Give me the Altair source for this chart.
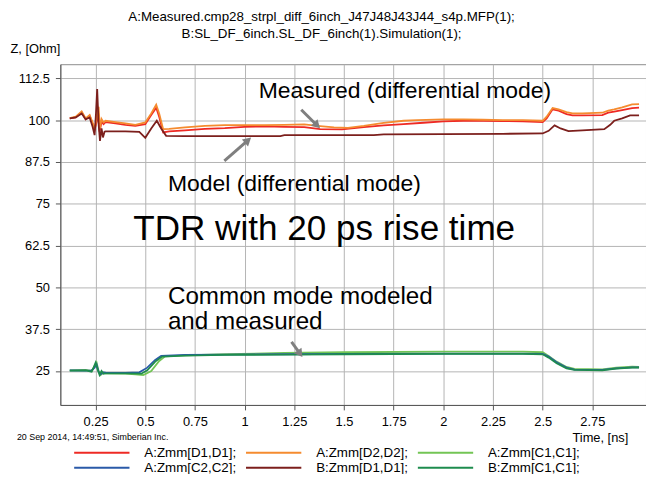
import math
import altair as alt
import pandas as pd

FONT = "Liberation Sans"

title_lines = ["A:Measured.cmp28_strpl_diff_6inch_J47J48J43J44_s4p.MFP(1);",
               "B:SL_DF_6inch.SL_DF_6inch(1).Simulation(1);"]
y_title = "Z, [Ohm]"
x_title = "Time, [ns]"
footer_text = "20 Sep 2014, 14:49:51, Simberian Inc."

x_ticks = [0.25, 0.5, 0.75, 1.0, 1.25, 1.5, 1.75, 2.0, 2.25, 2.5, 2.75]
y_ticks = [25, 37.5, 50, 62.5, 75, 87.5, 100, 112.5]
x_domain = [0.0726, 3.02]
y_domain = [14.85, 116.7]

series_names = ["A:Zmm[D1,D1];", "A:Zmm[D2,D2];", "A:Zmm[C1,C1];",
                "A:Zmm[C2,C2];", "B:Zmm[D1,D1];", "B:Zmm[C1,C1];"]
series_colors = ["#ee2a24", "#f58b2f", "#73c555", "#2a5aa8", "#7c1f1c", "#1e8c4e"]

# A:Zmm[D1,D1] (measured, red)
a_d1_t = [0.12, 0.15, 0.18, 0.20, 0.22, 0.235, 0.245, 0.255, 0.262, 0.27, 0.28, 0.29, 0.30, 0.35, 0.40,
          0.45, 0.50, 0.53, 0.555, 0.57, 0.59, 0.62, 0.7, 0.8, 0.9, 1.0, 1.1, 1.2, 1.3, 1.38, 1.49, 1.6,
          1.7, 1.8, 1.9, 2.0, 2.1, 2.2, 2.3, 2.4, 2.5, 2.52, 2.55, 2.58, 2.62, 2.65, 2.7, 2.8, 2.83, 2.86,
          2.9, 2.95, 2.985]
a_d1_z = [100.5, 100.8, 102.3, 100.3, 101.3, 99.0, 97.0, 99.5, 102.0, 96.5, 99.5, 98.8, 99.4, 99.0, 98.6,
          98.3, 98.8, 101.5, 103.7, 101.0, 96.3, 96.6, 96.9, 97.4, 97.6, 98.0, 98.1, 98.0, 97.9, 97.3, 97.2, 97.9,
          98.4, 98.8, 99.2, 99.6, 99.8, 99.8, 99.7, 99.6, 99.4, 100.5, 103.2, 102.8, 101.8, 101.4, 101.4, 101.5, 102.2, 102.5,
          103.0, 103.6, 103.7]

# A:Zmm[D2,D2] (measured, orange)
a_d2_t = [0.12, 0.15, 0.18, 0.20, 0.22, 0.235, 0.245, 0.255, 0.265, 0.272, 0.28, 0.29, 0.30, 0.35, 0.40,
          0.45, 0.50, 0.53, 0.555, 0.57, 0.59, 0.62, 0.7, 0.8, 0.9, 1.0, 1.1, 1.2, 1.3, 1.38, 1.45, 1.52,
          1.6, 1.7, 1.8, 1.87, 2.0, 2.1, 2.2, 2.3, 2.4, 2.5, 2.52, 2.55, 2.58, 2.62, 2.65, 2.7, 2.8, 2.83,
          2.86, 2.9, 2.95, 2.985]
a_d2_z = [100.6, 101.0, 102.6, 100.5, 101.5, 99.2, 97.3, 100.5, 104.0, 97.5, 100.3, 99.3, 99.8, 99.4, 99.0,
          98.6, 99.3, 102.0, 104.6, 102.0, 97.3, 97.4, 97.8, 98.3, 98.5, 98.5, 98.5, 98.6, 98.7, 98.2, 97.8, 97.7,
          98.3, 99.2, 99.8, 100.0, 100.2, 100.2, 100.1, 100.0, 100.0, 99.8, 101.0, 103.6, 103.2, 102.4, 102.0, 102.0, 102.2, 102.8,
          103.2, 103.8, 104.7, 104.8]

# A:Zmm[C1,C1] (measured common, light green)
a_c1_t = [0.12, 0.2, 0.23, 0.245, 0.255, 0.265, 0.275, 0.29, 0.3, 0.4, 0.45, 0.49, 0.53, 0.57, 0.60, 0.7,
          0.9, 1.2, 1.5, 2.0, 2.4, 2.5, 2.53, 2.57, 2.62, 2.66, 2.8, 2.87, 2.95, 2.985]
a_c1_z = [25.2, 25.3, 25.0, 26.5, 27.5, 25.0, 23.8, 24.5, 24.3, 24.2, 24.0, 23.8, 25.0, 28.0, 29.4, 29.7,
          30.0, 30.4, 30.6, 30.8, 30.8, 30.6, 29.5, 27.8, 26.2, 25.6, 25.5, 26.0, 26.3, 26.2]

# A:Zmm[C2,C2] (measured common, blue)
a_c2_t = [0.12, 0.2, 0.23, 0.245, 0.255, 0.265, 0.275, 0.29, 0.3, 0.4, 0.47, 0.51, 0.55, 0.58, 0.7, 0.9,
          1.2, 1.5, 2.0, 2.4, 2.5, 2.53, 2.57, 2.62, 2.66, 2.8, 2.87, 2.95, 2.985]
a_c2_z = [25.2, 25.1, 25.2, 26.0, 27.0, 24.8, 24.0, 24.6, 24.5, 24.4, 24.6, 26.0, 28.3, 29.5, 29.8, 29.9,
          30.0, 30.1, 30.2, 30.2, 30.1, 29.3, 27.6, 26.0, 25.4, 25.3, 25.8, 26.1, 26.1]

# B:Zmm[D1,D1] (model, dark brown)
b_d1_t = [0.12, 0.15, 0.18, 0.20, 0.22, 0.235, 0.245, 0.252, 0.258, 0.265, 0.272, 0.28, 0.287, 0.295, 0.30,
          0.35, 0.40, 0.47, 0.50, 0.53, 0.558, 0.58, 0.605, 0.7, 0.9, 1.18, 1.2, 1.65, 1.7, 2.0, 2.3, 2.5,
          2.53, 2.56, 2.59, 2.63, 2.7, 2.81, 2.84, 2.86, 2.9, 2.94, 2.985]
b_d1_z = [100.5, 100.8, 102.0, 100.2, 100.8, 98.0, 95.5, 102.0, 109.3, 99.0, 93.8, 97.5, 94.8, 96.5, 96.6,
          96.6, 96.6, 96.5, 94.7, 97.5, 99.8, 97.5, 95.3, 95.2, 95.2, 95.2, 95.5, 95.5, 95.7, 95.8, 95.9, 96.0,
          96.8, 98.4, 97.5, 96.7, 96.9, 97.3, 98.6, 99.8, 100.5, 101.4, 101.4]

# B:Zmm[C1,C1] (model common, dark green)
b_c1_t = [0.12, 0.2, 0.23, 0.24, 0.25, 0.26, 0.27, 0.28, 0.29, 0.3, 0.4, 0.48, 0.51, 0.55, 0.585, 0.7,
          0.9, 1.2, 1.5, 2.0, 2.4, 2.5, 2.53, 2.57, 2.62, 2.66, 2.8, 2.87, 2.95, 2.985]
b_c1_z = [25.1, 25.2, 24.8, 26.0, 27.5, 25.5, 23.8, 25.0, 24.2, 24.3, 24.3, 24.2, 25.2, 27.8, 29.3, 29.6,
          29.8, 29.9, 30.0, 30.1, 30.1, 30.0, 29.0, 27.3, 25.8, 25.3, 25.2, 25.7, 26.0, 26.0]

series_t = [a_d1_t, a_d2_t, a_c1_t, a_c2_t, b_d1_t, b_c1_t]
series_z = [a_d1_z, a_d2_z, a_c1_z, a_c2_z, b_d1_z, b_c1_z]

# annotations (data coordinates)
ann_text = ["Measured (differential mode)", "Model (differential mode)", "TDR with 20 ps rise time",
            "Common mode modeled", "and measured"]
ann_t = [1.071, 0.614, 0.440, 0.614, 0.614]
ann_z = [108.6, 81.0, 67.4, 47.0, 39.6]
ann_size = [23.2, 23.2, 35.5, 24.5, 24.5]

arrow_t1 = [1.285, 0.898, 1.236]
arrow_z1 = [103.1, 87.8, 33.7]
arrow_t2 = [1.360, 1.012, 1.275]
arrow_z2 = [98.7, 93.7, 30.5]

# ---------------------------------------------------------------
W, H = 593, 345
px_per_t = W / (x_domain[1] - x_domain[0])
px_per_z = H / (y_domain[1] - y_domain[0])

rows = []
for name, ts, zs in zip(series_names, series_t, series_z):
    for i, (t, z) in enumerate(zip(ts, zs)):
        rows.append({"series": name, "t": t, "z": z, "i": i})
df = pd.DataFrame(rows)

x_scale = alt.Scale(domain=x_domain, nice=False, zero=False)
y_scale = alt.Scale(domain=y_domain, nice=False, zero=False)

lines = alt.Chart(df).mark_line(strokeWidth=1.8).encode(
    x=alt.X("t:Q", scale=x_scale,
            axis=alt.Axis(values=x_ticks, title=x_title, titleX=518, titleY=33,
                          titleAlign="left", titleBaseline="middle", titleAngle=0,
                          labelPadding=6, labelExpr="format(datum.value, '.4~g')")),
    y=alt.Y("z:Q", scale=y_scale,
            axis=alt.Axis(values=y_ticks, title=y_title, titleX=-51, titleY=-16,
                          titleAlign="left", titleBaseline="middle", titleAngle=0,
                          labelPadding=6, labelExpr="format(datum.value, '.4~g')")),
    color=alt.Color("series:N", scale=alt.Scale(domain=series_names, range=series_colors),
                    legend=alt.Legend(orient="none", legendX=13, legendY=386, columns=3,
                                      direction="horizontal",
                                      title=None, symbolType="stroke", symbolSize=3136,
                                      symbolStrokeWidth=2, clipHeight=15, labelOffset=14,
                                      labelFontSize=13.5, labelFont=FONT, labelColor="#000",
                                      columnPadding=8, rowPadding=0)),
    order="i:Q",
)

ann_df = pd.DataFrame({"text": ann_text, "t": ann_t, "z": ann_z, "size": ann_size})
annotations = alt.Chart(ann_df).mark_text(align="left", baseline="middle", font=FONT,
                                          color="#000").encode(
    x=alt.X("t:Q", scale=x_scale),
    y=alt.Y("z:Q", scale=y_scale),
    text="text:N",
    size=alt.Size("size:Q", scale=None, legend=None),
)

angles = []
for t1, z1, t2, z2 in zip(arrow_t1, arrow_z1, arrow_t2, arrow_z2):
    dx = (t2 - t1) * px_per_t
    dy = -(z2 - z1) * px_per_z
    angles.append(math.degrees(math.atan2(dx, -dy)) % 360)
arr_df = pd.DataFrame({"t": arrow_t1, "z": arrow_z1, "t2": arrow_t2, "z2": arrow_z2, "angle": angles})

shafts = alt.Chart(arr_df).mark_rule(strokeWidth=3, color="#7f7f7f").encode(
    x=alt.X("t:Q", scale=x_scale), y=alt.Y("z:Q", scale=y_scale), x2="t2:Q", y2="z2:Q")
heads = alt.Chart(arr_df).mark_point(shape="triangle", filled=True, size=90, color="#7f7f7f",
                                     opacity=1).encode(
    x=alt.X("t2:Q", scale=x_scale), y=alt.Y("z2:Q", scale=y_scale),
    angle=alt.Angle("angle:Q", scale=None))

footer = alt.Chart(pd.DataFrame({"text": [footer_text]})).mark_text(
    align="left", baseline="middle", fontSize=9, font=FONT, color="#000").encode(
    x=alt.value(-44), y=alt.value(377), text="text:N")

chart = alt.layer(lines, shafts, heads, annotations, footer).properties(
    width=W, height=H,
    autosize=alt.AutoSizeParams(type="none"),
    padding={"left": 53, "top": 54, "right": 0, "bottom": 67},
    title=alt.TitleParams(text=title_lines, fontSize=13.5, font=FONT, fontWeight="normal",
                          anchor="middle", dx=-32, offset=2, lineHeight=17, color="#000"),
).configure_view(stroke="#8c8c8c", strokeWidth=1).configure_axis(
    labelFont=FONT, labelFontSize=13, labelColor="#000", titleFont=FONT, titleFontSize=13,
    titleFontWeight="normal", titleColor="#000", gridColor="#b4b4b4", gridWidth=1,
    domainColor="#555", tickColor="#555", tickSize=5,
)

chart.save("out.html", embed_options={"renderer": "svg", "actions": False})
